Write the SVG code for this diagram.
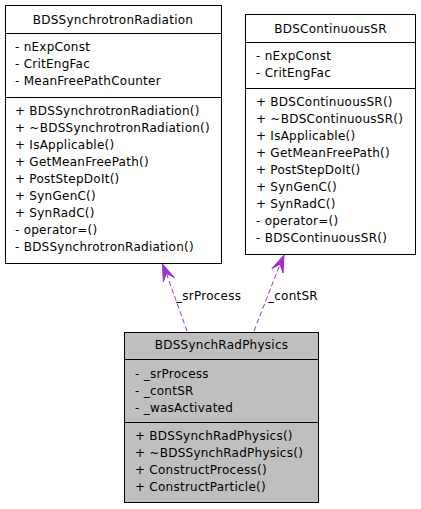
<svg xmlns="http://www.w3.org/2000/svg" width="421" height="509" viewBox="0 0 421 509">
<style>
text{font-family:"DejaVu Sans",sans-serif;font-size:12px;letter-spacing:0.25px;fill:#000}
.t{text-anchor:middle}
.box{fill:#fff;stroke:#000;stroke-width:1}
.g{fill:#bfbfbf}
.div{stroke:#000;stroke-width:1}
.edge{fill:none;stroke:#9a32cd;stroke-width:1;stroke-dasharray:5,3}
.head{fill:#9a32cd;stroke:#9a32cd;stroke-width:1;stroke-linejoin:miter}
</style>
<rect width="421" height="509" fill="#fff"/>
<g id="BDSSynchrotronRadiation">
<rect class="box" x="5.5" y="5.5" width="216" height="258"/>
<line class="div" x1="5.5" y1="33.5" x2="221.5" y2="33.5"/>
<line class="div" x1="5.5" y1="97.5" x2="221.5" y2="97.5"/>
<text class="t" x="113" y="24">BDSSynchrotronRadiation</text>
<text x="15" y="51">- nExpConst</text>
<text x="15" y="68">- CritEngFac</text>
<text x="15" y="85">- MeanFreePathCounter</text>
<text x="15" y="115">+ BDSSynchrotronRadiation()</text>
<text x="15" y="132">+ ~BDSSynchrotronRadiation()</text>
<text x="15" y="149">+ IsApplicable()</text>
<text x="15" y="166">+ GetMeanFreePath()</text>
<text x="15" y="183">+ PostStepDoIt()</text>
<text x="15" y="200">+ SynGenC()</text>
<text x="15" y="217">+ SynRadC()</text>
<text x="15" y="234">- operator=()</text>
<text x="15" y="251">- BDSSynchrotronRadiation()</text>
</g>
<g id="BDSContinuousSR">
<rect class="box" x="245.5" y="14.5" width="170" height="240"/>
<line class="div" x1="245.5" y1="42.5" x2="415.5" y2="42.5"/>
<line class="div" x1="245.5" y1="88.5" x2="415.5" y2="88.5"/>
<text class="t" x="330.5" y="32.5">BDSContinuousSR</text>
<text x="256" y="60">- nExpConst</text>
<text x="256" y="77">- CritEngFac</text>
<text x="256" y="106">+ BDSContinuousSR()</text>
<text x="256" y="123">+ ~BDSContinuousSR()</text>
<text x="256" y="140">+ IsApplicable()</text>
<text x="256" y="157">+ GetMeanFreePath()</text>
<text x="256" y="174">+ PostStepDoIt()</text>
<text x="256" y="191">+ SynGenC()</text>
<text x="256" y="208">+ SynRadC()</text>
<text x="256" y="225">- operator=()</text>
<text x="256" y="242">- BDSContinuousSR()</text>
</g>
<g id="BDSSynchRadPhysics">
<rect class="box g" x="124.5" y="332.5" width="194" height="170"/>
<line class="div" x1="124.5" y1="359.5" x2="318.5" y2="359.5"/>
<line class="div" x1="124.5" y1="422.5" x2="318.5" y2="422.5"/>
<text class="t" x="221.5" y="349">BDSSynchRadPhysics</text>
<text x="135" y="377.5">- _srProcess</text>
<text x="135" y="394.5">- _contSR</text>
<text x="135" y="411.5">- _wasActivated</text>
<text x="135" y="440">+ BDSSynchRadPhysics()</text>
<text x="135" y="457">+ ~BDSSynchRadPhysics()</text>
<text x="135" y="474">+ ConstructProcess()</text>
<text x="135" y="491">+ ConstructParticle()</text>
</g>
<g id="connectors">
<path class="edge" d="M187,331 L166.4,273.3"/>
<polygon class="head" points="162.5,264 174.5,277.7 166.4,273.3 163.3,281.9"/>
<text x="176" y="300">_srProcess</text>
<path class="edge" d="M254,331 L280,264.3"/>
<polygon class="head" points="284,255 283.1,273 280,264.3 271.9,268.6"/>
<text x="268" y="300">_contSR</text>
</g>
</svg>
